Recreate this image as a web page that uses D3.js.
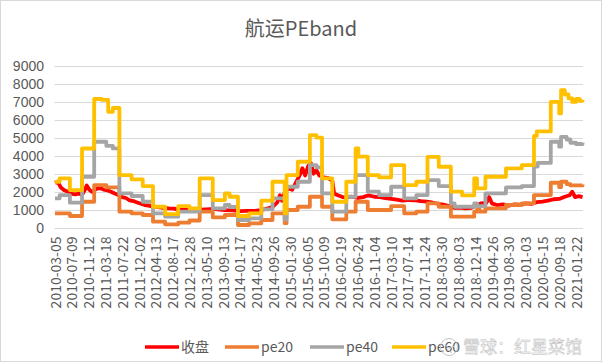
<!DOCTYPE html>
<meta charset="utf-8">
<style>
body { margin: 0; background: #fff; }
svg text { font-family: "Noto Sans CJK SC", "Noto Sans", sans-serif; fill: #595959; }
</style>
<svg width="602" height="362"></svg>
<script src="https://cdnjs.cloudflare.com/ajax/libs/d3/7.8.5/d3.min.js"></script>
<script>

// weekly categories, one label every 18 weeks
var nWeeks = 566;
var tickLabels = ["2010-03-05","2010-07-09","2010-11-12","2011-03-18","2011-07-22","2011-12-02",
  "2012-04-13","2012-08-17","2012-12-28","2013-05-10","2013-09-13","2014-01-17","2014-05-23",
  "2014-09-26","2015-01-30","2015-06-05","2015-10-09","2016-02-19","2016-06-24","2016-11-04",
  "2017-03-10","2017-07-14","2017-11-24","2018-03-30","2018-08-03","2018-12-14","2019-04-26",
  "2019-08-30","2020-01-03","2020-05-15","2020-09-18","2021-01-22"];
var yTicks = [0,1000,2000,3000,4000,5000,6000,7000,8000,9000];

// [week, value]
var closePx = [[0,2500],[3,2560],[6,2250],[10,2080],[14,2000],[18,1880],[22,1850],[26,1900],[29,1820],
  [32,2100],[34,2350],[37,2100],[40,1980],[44,2150],[48,2200],[52,2120],[56,2080],[60,2000],[64,1900],
  [68,1820],[72,1700],[76,1650],[80,1520],[84,1480],[88,1400],[92,1330],[96,1260],[100,1220],[104,1180],
  [110,1140],[116,1100],[122,1070],[128,1060],[132,980],[138,1060],[144,1040],[150,1050],[156,1000],
  [162,1020],[170,1050],[176,1000],[182,980],[190,960],[198,920],[206,930],[214,940],[220,980],[226,1050],
  [230,1100],[234,1200],[238,1400],[241,1800],[243,1500],[246,1950],[250,2200],[254,2100],[258,2500],
  [262,2900],[265,3300],[268,2900],[271,3400],[274,3600],[277,3000],[280,3200],[283,2900],[288,2800],
  [293,2750],[297,2600],[299,1900],[303,1800],[308,1700],[312,1680],[318,1720],[324,1650],[330,1700],
  [336,1800],[342,1720],[348,1700],[354,1640],[360,1600],[366,1560],[372,1500],[380,1540],[386,1520],
  [392,1480],[398,1450],[404,1400],[410,1330],[416,1280],[422,1200],[428,1100],[434,1120],[440,1080],
  [446,1100],[450,1200],[456,1350],[462,1380],[465,1700],[468,1350],[474,1250],[480,1300],[486,1220],
  [492,1300],[498,1280],[504,1350],[510,1320],[516,1420],[522,1450],[528,1500],[534,1580],[540,1600],
  [546,1720],[551,1800],[554,2000],[557,1700],[561,1750],[565,1700]];

// pe bands change in steps: [first week, value]
var pe20 = [[0,800],[16,650],[29,1443],[42,2370],[55,2240],[69,890],[82,800],[94,705],[105,333],[118,188],
  [132,280],[144,400],[155,888],[169,577],[182,705],[196,150],[208,244],[221,427],[233,800],[246,250],
  [248,982],[260,1165],[273,1720],[286,1165],[297,465],[312,888],[322,1443],[335,982],[360,1204],[374,800],
  [387,888],[399,1354],[411,1165],[424,610],[449,888],[452,1000],[455,888],[461,1075],[483,1260],[500,1354],
  [513,1815],[531,2497],[540,2250],[542,2553],[548,2425],[552,2350],[565,2400]];

var pe40 = [[0,1630],[5,1815],[16,1390],[29,2830],[42,4775],[55,4550],[62,4405],[69,1909],[82,1760],
  [94,1443],[105,800],[118,610],[132,890],[155,1815],[169,1075],[182,1260],[187,1150],[196,427],[208,520],
  [221,1020],[233,1630],[246,450],[248,2275],[260,2553],[273,3480],[280,3350],[286,1909],[297,888],
  [312,1720],[322,2925],[335,2000],[347,1815],[360,2275],[374,1630],[387,1815],[399,2647],[411,2315],
  [424,1354],[428,1165],[449,1354],[452,1200],[461,1909],[483,2240],[500,2315],[513,3400],[517,3600],
  [531,4775],[540,4500],[542,5050],[548,4900],[552,4720],[558,4650],[565,4720]];

var pe60 = [[0,2550],[5,2740],[16,2090],[29,4400],[42,7150],[50,7100],[57,6440],[62,6650],[69,2925],
  [82,2685],[94,2315],[105,1165],[118,750],[132,1200],[144,1075],[155,2740],[169,1537],[182,1909],
  [187,1720],[196,650],[208,800],[221,1500],[233,2553],[246,800],[248,2925],[260,3663],[273,5145],
  [280,5000],[286,2740],[297,1443],[312,2553],[322,4400],[325,3950],[335,2925],[347,2800],[360,3480],
  [374,2370],[387,2553],[399,3940],[411,3386],[424,2000],[436,1800],[449,2740],[452,2187],[461,2830],
  [483,3296],[500,3480],[513,5100],[516,5350],[531,6993],[540,6350],[542,7642],[546,7400],[550,7180],
  [554,6990],[558,7150],[562,7050],[565,7100]];

var series = [
  {name: "收盘", data: closePx, color: "#ff0000", step: false},
  {name: "pe20", data: pe20, color: "#ed7d31", step: true},
  {name: "pe40", data: pe40, color: "#a5a5a5", step: true},
  {name: "pe60", data: pe60, color: "#ffc000", step: true}
];

var svg = d3.select("svg");

svg.append("rect")
    .attr("x", 0.5).attr("y", 0.5)
    .attr("width", 601).attr("height", 361)
    .attr("fill", "#fff")
    .attr("stroke", "#d9d9d9");

var x = d3.scaleLinear().domain([-0.5, nWeeks - 0.5]).range([54.5, 583]);
var y = d3.scaleLinear().domain([0, 9000]).range([227.7, 65.7]);

svg.append("text")
    .attr("x", 301).attr("y", 36)
    .attr("text-anchor", "middle")
    .style("font-size", "20px")
    .text("航运PEband");

// grid
svg.append("g")
  .selectAll("line")
  .data(yTicks)
  .enter().append("line")
    .attr("x1", x.range()[0]).attr("x2", x.range()[1])
    .attr("y1", d => Math.round(y(d)) + 0.5)
    .attr("y2", d => Math.round(y(d)) + 0.5)
    .attr("stroke", "#d9d9d9");

var yAxis = svg.append("g")
    .attr("transform", "translate(54,0)")
    .call(d3.axisLeft(y).tickValues(yTicks).tickFormat(d => d).tickSize(0).tickPadding(10));
yAxis.select(".domain").remove();
yAxis.selectAll("text")
    .attr("fill", "#595959")
    .style("font-family", "'Liberation Sans', Arial, sans-serif")
    .style("font-size", "14px");

var xAxis = svg.append("g")
    .attr("transform", "translate(0," + (Math.round(y(0)) + 0.5) + ")")
    .call(d3.axisBottom(x)
      .tickValues(tickLabels.map((d, i) => i * 18))
      .tickFormat((d, i) => tickLabels[i])
      .tickSize(0));
xAxis.select(".domain").remove();
xAxis.selectAll("text")
    .attr("transform", "rotate(-90)")
    .attr("text-anchor", "end")
    .attr("x", -8)
    .attr("y", 0)
    .attr("dy", "0.36em")
    .attr("fill", "#595959")
    .style("font-family", null)
    .style("font-size", "14px");

// series
series.forEach(s => {
  var line = d3.line()
      .x(d => x(d[0]))
      .y(d => y(d[1]))
      .curve(s.step ? d3.curveStepAfter : d3.curveLinear);
  svg.append("path")
      .datum(s.data)
      .attr("fill", "none")
      .attr("stroke", s.color)
      .attr("stroke-width", 3.8)
      .attr("stroke-linejoin", "round")
      .attr("d", line);
});

// legend
var legendX = [145, 225, 310, 392];
var legend = svg.selectAll(".legend")
    .data(series)
    .enter().append("g")
    .attr("class", "legend")
    .attr("transform", (d, i) => "translate(" + legendX[i] + ",347)");

legend.append("line")
    .attr("x1", 0).attr("x2", 34)
    .attr("stroke", d => d.color)
    .attr("stroke-width", 3.5);

legend.append("text")
    .attr("x", 36).attr("dy", "0.35em")
    .style("font-size", "14px")
    .text(d => d.name);

// watermark
var wm = svg.append("g").attr("transform", "translate(449,347)");
wm.append("circle").attr("r", 8.5).attr("fill", "none").attr("stroke", "#c4c4c4").attr("stroke-width", 1);
wm.append("path").attr("d", "M-4,-3 Q0,4 5,-1 M-2,2 L3,6").attr("fill", "none").attr("stroke", "#c4c4c4").attr("stroke-width", 1);
wm.append("text")
    .attr("x", 14).attr("dy", "0.36em")
    .style("font-size", "17px")
    .style("fill", "#fafafa")
    .style("stroke", "#bdbdbd")
    .style("stroke-width", 0.5)
    .text("雪球：红星菜馆");

</script>
